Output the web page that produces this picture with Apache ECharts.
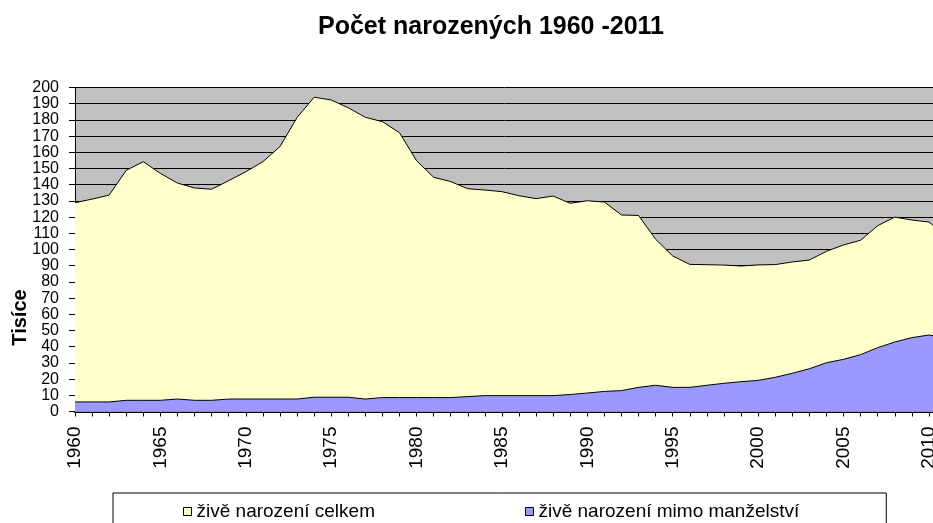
<!DOCTYPE html>
<html>
<head>
<meta charset="utf-8">
<script src="https://cdn.jsdelivr.net/npm/echarts@6/dist/echarts.min.js"></script>
<style>
html,body{margin:0;padding:0;background:#fff;}
#c{width:933px;height:523px;}
</style>
</head>
<body>
<div id="c"></div>
<script>
var years = [];
for (var y = 1960; y <= 2011; y++) years.push(String(y));

var totalBirths = [128.9,131.1,133.6,148.9,154.2,147.0,141.0,138.0,137.2,142.5,
  148.0,154.2,163.5,181.4,194.0,192.3,187.5,181.6,178.9,172.1,
  154.8,144.6,141.9,137.5,136.7,135.7,133.2,131.4,133.0,128.5,
  130.1,129.3,121.3,121.0,106.3,96.0,90.8,90.6,90.4,89.8,
  90.5,90.7,92.3,93.5,98.9,102.8,105.7,114.7,120.0,118.2,
  117.0,108.7];

var outsideMarriage = [5.9,5.9,5.9,6.9,6.9,6.9,7.7,6.9,6.9,7.7,
  7.7,7.7,7.7,7.7,8.8,8.8,8.8,7.7,8.6,8.6,
  8.6,8.6,8.6,9.2,9.8,9.8,9.8,9.8,9.8,10.5,
  11.4,12.4,12.9,14.9,16.2,14.9,14.9,16.2,17.4,18.4,
  19.2,21.1,23.6,26.4,30.1,32.2,35.1,39.4,42.9,45.6,
  47.2,45.5];

var seriesNames = ['živě narození celkem', 'živě narození mimo manželství'];
var titleText = 'Počet narozených 1960 -2011';
var yAxisName = 'Tisíce';

var FONT = '"Liberation Sans", Arial, sans-serif';
var chart = echarts.init(document.getElementById('c'));
chart.setOption({
  backgroundColor: '#ffffff',
  animation: false,
  title: {
    text: titleText,
    left: 491, top: 15, padding: 0,
    textAlign: 'center',
    textStyle: {fontFamily: FONT, fontWeight: 'bold', fontSize: 25, color: '#000'}
  },
  legend: {
    data: seriesNames,
    left: 113, top: 493,
    padding: [9, 87, 20, 70],
    itemWidth: 8, itemHeight: 8, itemGap: 150,
    icon: 'rect',
    borderColor: '#000', borderWidth: 1,
    backgroundColor: '#fff',
    itemStyle: {borderColor: '#000', borderWidth: 1},
    textStyle: {fontFamily: FONT, fontSize: 19, color: '#000'}
  },
  grid: {
    left: 75, top: 87.5, width: 871, height: 324,
    containLabel: false,
    outerBoundsMode: 'none',
    show: true, backgroundColor: '#C0C0C0', borderWidth: 0
  },
  xAxis: {
    type: 'category',
    data: years,
    boundaryGap: false,
    axisLine: {lineStyle: {color: '#000', width: 2}},
    axisTick: {interval: 0, length: 5, lineStyle: {color: '#000'}},
    axisLabel: {interval: 4, rotate: 90, margin: 15, fontFamily: FONT, fontSize: 19, color: '#000', hideOverlap: false},
    splitLine: {show: false}
  },
  yAxis: {
    type: 'value',
    min: 0, max: 200, interval: 10,
    name: yAxisName,
    nameLocation: 'middle',
    nameGap: 45,
    nameMoveOverlap: false,
    nameTextStyle: {fontFamily: FONT, fontWeight: 'bold', fontSize: 20, color: '#000', padding: [0, 136, 0, 0]},
    axisLine: {show: true, lineStyle: {color: '#000', width: 1}},
    axisTick: {show: true, length: 6, lineStyle: {color: '#000'}},
    axisLabel: {margin: 16, fontFamily: FONT, fontSize: 16, lineHeight: 15, color: '#000', showMinLabel: true, showMaxLabel: true, hideOverlap: false},
    splitLine: {show: true, lineStyle: {color: '#000', width: 1}}
  },
  series: [
    {
      name: seriesNames[0],
      type: 'line',
      data: totalBirths,
      symbol: 'none',
      lineStyle: {color: '#000', width: 1},
      itemStyle: {color: '#FFFFCC', borderColor: '#000'},
      areaStyle: {color: '#FFFFCC', opacity: 1},
      z: 2
    },
    {
      name: seriesNames[1],
      type: 'line',
      data: outsideMarriage,
      symbol: 'none',
      lineStyle: {color: '#000', width: 1},
      itemStyle: {color: '#9999FF', borderColor: '#000'},
      areaStyle: {color: '#9999FF', opacity: 1},
      z: 3
    }
  ]
});
</script>
</body>
</html>
